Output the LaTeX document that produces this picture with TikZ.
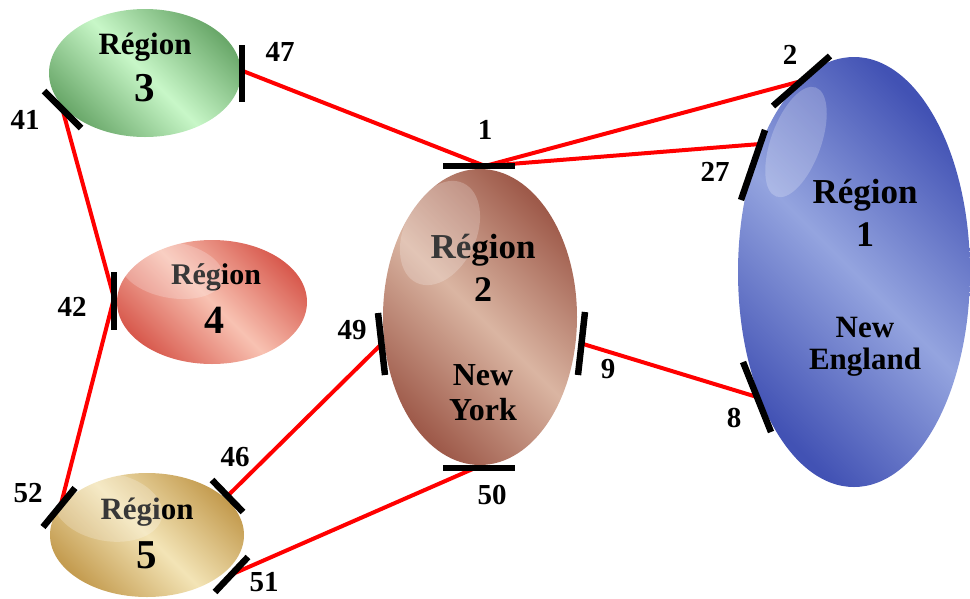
\documentclass[tikz,border=0pt]{standalone}
\usepackage{fontspec}
\setmainfont{Liberation Serif}
\usetikzlibrary{shapes.geometric,calc}
\definecolor{gL}{HTML}{C8F7C8}\definecolor{gD}{HTML}{6AA86A}
\definecolor{rL}{HTML}{F8C2B2}\definecolor{rD}{HTML}{D85A4E}
\definecolor{bL}{HTML}{DAB5A2}\definecolor{bD}{HTML}{9E5A4A}
\definecolor{uL}{HTML}{94A4DF}\definecolor{uD}{HTML}{4252B4}
\definecolor{tL}{HTML}{F3E4B6}\definecolor{tD}{HTML}{C49C50}
\tikzset{
  region/.style n args={2}{ellipse, inner sep=0pt, draw=none,
     left color=#2, right color=#2, middle color=#1, shading angle=-45},
  shine/.style={fill=white, opacity=0.22},
  port/.style={line width=6.5pt, black},
  link/.style={line width=4pt, red},
  plab/.style={font=\fontsize{29}{29}\selectfont\bfseries},
  rtxt/.style={font=\fontsize{#1}{#1}\selectfont\bfseries},
}
\begin{document}
\begin{tikzpicture}[x=1pt,y=-1pt]
\useasboundingbox (0,0) rectangle (970,598);
% regions
\node[region={gL}{gD}, minimum width=192pt, minimum height=128pt] (r3) at (145,73) {};
\node[region={rL}{rD}, minimum width=190pt, minimum height=124pt] (r4) at (212,302) {};
\node[region={tL}{tD}, minimum width=194pt, minimum height=124pt] (r5) at (147,535) {};
\node[region={bL}{bD}, minimum width=194pt, minimum height=296pt] (r2) at (480,317) {};
\node[region={uL}{uD}, minimum width=232pt, minimum height=430pt] (r1) at (854,272) {};
% texts
\node[rtxt=31] (t3a) at (145,47) {Région};
\node[rtxt=41] (t3b) at (145,88) {3};
\node[rtxt=30] (t4a) at (216,277) {Région};
\node[rtxt=40] (t4b) at (214,320) {4};
\node[rtxt=31] (t5a) at (147,512) {Région};
\node[rtxt=41] (t5b) at (147,555) {5};
\node[rtxt=35] (t2a) at (483,250) {Région};
\node[rtxt=36] (t2b) at (483,290) {2};
\node[rtxt=32] (t2c) at (483,375) {New};
\node[rtxt=32] (t2d) at (483,410) {York};
\node[rtxt=35] (t1a) at (865,195) {Région};
\node[rtxt=36] (t1b) at (865,235) {1};
\node[rtxt=31] (t1c) at (865,327) {New};
\node[rtxt=31] (t1d) at (865,362) {England};
% highlights
\fill[shine, rotate around={-25:(440,233)}] (440,233) ellipse [x radius=36pt, y radius=55pt];
\fill[shine, rotate around={-20:(796,142)}] (796,142) ellipse [x radius=25pt, y radius=58pt];
\fill[shine, rotate around={-10:(172,270)}] (172,270) ellipse [x radius=52pt, y radius=28pt];
\fill[shine, rotate around={-10:(108,507)}] (108,507) ellipse [x radius=55pt, y radius=34pt];
% port ends
\coordinate (p47a) at (242,45);  \coordinate (p47b) at (242,102);
\coordinate (p41a) at (44,91);   \coordinate (p41b) at (81,128);
\coordinate (p1a)  at (443,166); \coordinate (p1b)  at (515,166);
\coordinate (p2a)  at (773,106); \coordinate (p2b)  at (830,56);
\coordinate (p27a) at (741,200); \coordinate (p27b) at (765,130);
\coordinate (p8a)  at (743,362); \coordinate (p8b)  at (771,432);
\coordinate (p9a)  at (585,312); \coordinate (p9b)  at (578,375);
\coordinate (p49a) at (378,313); \coordinate (p49b) at (385,375);
\coordinate (p50a) at (443,468); \coordinate (p50b) at (515,468);
\coordinate (p42a) at (114,272); \coordinate (p42b) at (114,330);
\coordinate (p52a) at (43,527);  \coordinate (p52b) at (75,488);
\coordinate (p46a) at (212,480); \coordinate (p46b) at (243,512);
\coordinate (p51a) at (215,592); \coordinate (p51b) at (248,557);
% link points
\coordinate (c47) at ($(p47a)!0.45!(p47b)$);
\coordinate (c41) at ($(p41a)!0.5!(p41b)$);
\coordinate (c1)  at (485,166);
\coordinate (c2)  at ($(p2a)!0.5!(p2b)$);
\coordinate (c27) at ($(p27a)!0.8!(p27b)$);
\coordinate (c8)  at ($(p8a)!0.5!(p8b)$);
\coordinate (c9)  at ($(p9a)!0.5!(p9b)$);
\coordinate (c49) at ($(p49a)!0.5!(p49b)$);
\coordinate (c50) at (475,468);
\coordinate (c42) at (114,298);
\coordinate (c52) at ($(p52a)!0.55!(p52b)$);
\coordinate (c46) at ($(p46a)!0.5!(p46b)$);
\coordinate (c51) at ($(p51a)!0.5!(p51b)$);
% links
\draw[link] (c47) -- (c1);
\draw[link] (c1) -- (c2);
\draw[link] (c1) -- (c27);
\draw[link] (c41) -- (c42);
\draw[link] (c42) -- (c52);
\draw[link] (c46) -- (c49);
\draw[link] (c50) -- (c51);
\draw[link] (c9) -- (c8);
% ports
\foreach \p in {47,41,1,2,27,8,9,49,50,42,52,46,51}
  \draw[port] (p\p a) -- (p\p b);
% port labels
\node[plab] (l47) at (280,52) {47};
\node[plab] (l41) at (25,120) {41};
\node[plab] (l1)  at (485,130) {1};
\node[plab] (l2)  at (790,55) {2};
\node[plab] (l27) at (715,172) {27};
\node[plab] (l8)  at (734,418) {8};
\node[plab] (l9)  at (608,369) {9};
\node[plab] (l49) at (352,330) {49};
\node[plab] (l50) at (492,495) {50};
\node[plab] (l42) at (72,307) {42};
\node[plab] (l52) at (28,493) {52};
\node[plab] (l46) at (235,457) {46};
\node[plab] (l51) at (264,582) {51};
\end{tikzpicture}
\end{document}
